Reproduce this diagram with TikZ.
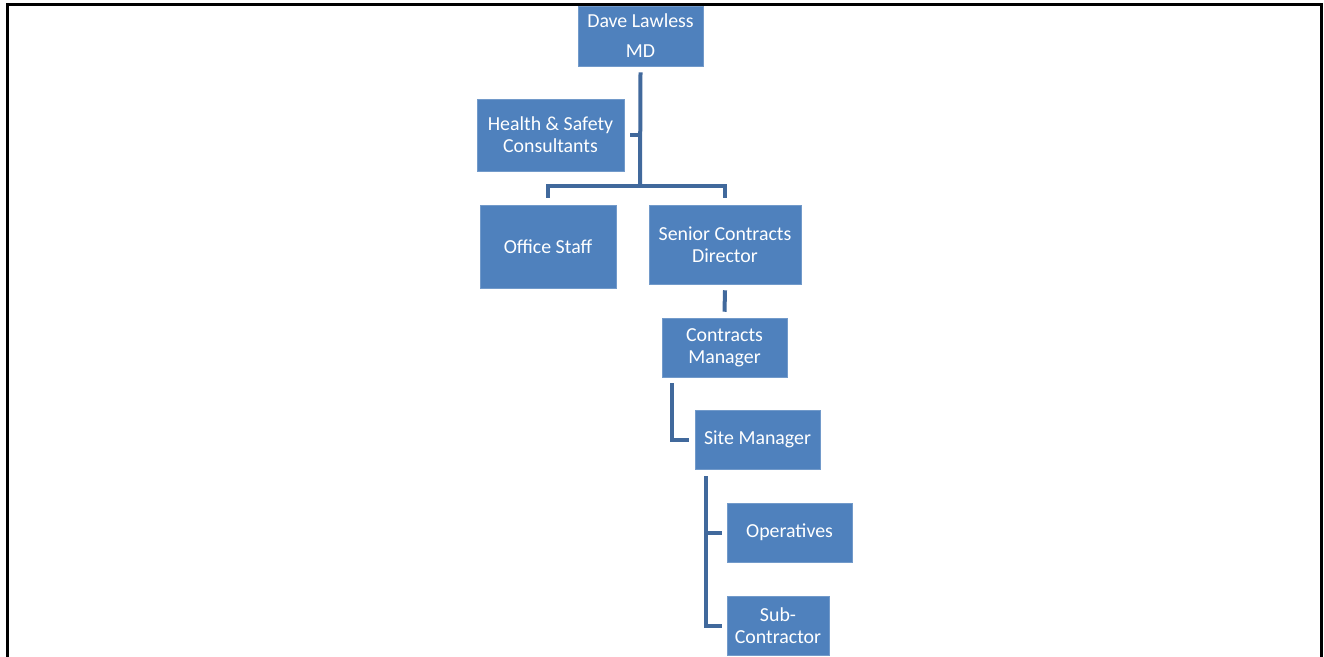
\documentclass[tikz,border=0pt]{standalone}
\usepackage{fontspec}
\setmainfont{Carlito}
\definecolor{boxblue}{HTML}{4F81BD}
\definecolor{linkblue}{HTML}{41699C}
\tikzset{
  post/.style={fill=boxblue, draw=boxblue!80!white, line width=0.3pt, text=white,
    align=center, inner sep=0pt, font=\fontsize{11.3}{12.5}\selectfont},
  link/.style={draw=linkblue, line width=0.8mm}
}
\begin{document}
\begin{tikzpicture}[x=0.2mm, y=0.2mm]
\useasboundingbox (0,0) rectangle (1324,-656);
\draw [black, line width=0.6mm] (7,-4) rectangle (1321,-662);
\node [post, minimum width=25mm, minimum height=12mm, font=\fontsize{11.3}{17}\selectfont] (md) at (640.5,-36) {Dave Lawless\\MD};
\node [post, minimum width=29.4mm, minimum height=14.4mm] (hs) at (550.5,-135) {Health \& Safety\\Consultants};
\node [post, minimum width=27.2mm, minimum height=16.6mm] (office) at (548,-246.5) {Office Staff};
\node [post, minimum width=30.4mm, minimum height=15.8mm] (scd) at (725,-244.5) {Senior Contracts\\Director};
\node [post, minimum width=25mm, minimum height=11.8mm] (cm) at (724.5,-347.5) {Contracts\\Manager};
\node [post, minimum width=25mm, minimum height=11.8mm] (sm) at (757.5,-439.5) {Site Manager};
\node [post, minimum width=25mm, minimum height=11.8mm] (ops) at (789.5,-532.5) {Operatives};
\node [post, minimum width=20.4mm, minimum height=11.8mm] (sub) at (778,-625.5) {Sub-\\Contractor};
% connectors
\coordinate (bar) at (640,-186);
\draw [link] (md.south) ++(0,-6) -- (bar);
\draw [link] ([xshift=1.2mm]hs.east) -- (hs.east -| bar);
\draw [link] ([yshift=1.4mm]office.north) |- (bar) -| ([yshift=1.4mm]scd.north);
\draw [link] ([yshift=-1.2mm]scd.south) -- ([yshift=1.2mm]cm.north);
\draw [link] ([xshift=2mm,yshift=-1.2mm]cm.south west) |- ([xshift=-1.2mm]sm.west);
\coordinate (trunk) at ([xshift=2.2mm,yshift=-1.4mm]sm.south west);
\draw [link] (trunk) |- ([xshift=-1mm]sub.west);
\draw [link] (trunk |- ops.west) -- ([xshift=-1mm]ops.west);
\end{tikzpicture}
\end{document}
